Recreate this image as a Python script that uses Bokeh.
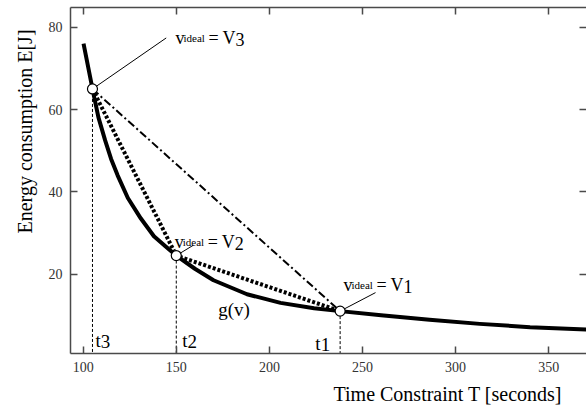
from bokeh.plotting import figure
from bokeh.models import Range1d, LinearAxis, FixedTicker, Label, ColumnDataSource, Title
from bokeh.core.properties import value
from bokeh.embed import file_html
from bokeh.resources import INLINE

# ---- data ----
curve_T = [100.2, 105, 108.2, 111.8, 115, 118.5, 124, 131, 138, 144, 150,
           160, 170, 188, 206, 224, 238, 260, 286, 313, 340, 372]
curve_E = [76.0, 65.0, 58.1, 52.5, 48.0, 44.0, 38.5, 33.5, 29.2, 26.8, 24.5,
           21.3, 18.5, 15.1, 13.0, 11.7, 11.0, 10.0, 8.9, 7.9, 7.1, 6.5]

point_T = [238, 150, 105]          # t1, t2, t3
point_E = [11.0, 24.5, 65.0]       # V1, V2, V3
point_idx = ["1", "2", "3"]

x_ticks = [100, 150, 200, 250, 300, 350]
y_ticks = [20, 40, 60, 80]

# ---- layout constants ----
X0, X1 = 93.2, 370.3
Y0, Y1 = 0.7, 84.8
SERIF = "Liberation Serif"
AX = "#4a4a4a"

p = figure(width=586, height=412, x_range=Range1d(X0, X1), y_range=Range1d(Y0, Y1),
           output_backend="svg", toolbar_location=None,
           min_border_left=70, min_border_right=0, min_border_top=7, min_border_bottom=59,
           background_fill_color="white", border_fill_color="white",
           outline_line_color=None)
p.grid.visible = False


def style_axis(ax, ticks, show_labels=True, show_line=True):
    ax.ticker = FixedTicker(ticks=ticks)
    ax.major_tick_in = 7
    ax.major_tick_out = 0
    ax.minor_tick_in = 0
    ax.minor_tick_out = 0
    ax.major_tick_line_color = AX
    ax.major_tick_line_width = 1.5
    ax.axis_line_color = AX if show_line else None
    ax.axis_line_width = 1.5
    ax.major_label_text_font = SERIF
    if show_labels:
        ax.major_label_text_font_size = "14px"
        ax.major_label_text_color = "#333333"
    else:
        ax.major_label_text_font_size = "1px"
        ax.major_label_text_color = None
        ax.major_label_standoff = 0


style_axis(p.xaxis[0], x_ticks)
p.xaxis[0].major_label_standoff = 8
style_axis(p.yaxis[0], y_ticks)
p.yaxis[0].major_label_standoff = 8

top = LinearAxis()
style_axis(top, x_ticks, show_labels=False)
p.add_layout(top, "above")
right = LinearAxis()
style_axis(right, y_ticks, show_labels=False, show_line=False)
p.add_layout(right, "right")

# vertical dashed guides
p.segment(x0=point_T, y0=point_E, x1=point_T, y1=[Y0] * len(point_T),
          line_color="black", line_width=1, line_dash="3 2")

# chord V3 -> V1 (dash-dot)
p.line([point_T[2], point_T[0]], [point_E[2], point_E[0]],
       line_color="black", line_width=2, line_dash="8 3 2 3")

# polyline V3 -> V2 -> V1 (dotted)
p.line(point_T[::-1], point_E[::-1], line_color="black", line_width=4,
       line_dash="3 2", line_cap="butt")

# g(v)
p.line(curve_T, curve_E, line_color="black", line_width=4, line_join="round")

# leader lines to annotations
lead_x1 = [257.0, 159.1, 144.6]
lead_y1 = [15.5, 27.0, 77.4]
p.segment(x0=point_T, y0=point_E, x1=lead_x1, y1=lead_y1, line_color="black", line_width=1)

# markers
p.scatter(point_T, point_E, size=10, fill_color="white", line_color="black", line_width=1.2)

# annotation texts "v_ideal = Vn"
ann_x = [239.8, 149.2, 149.6]
ann_y = [17.25, 27.9, 77.5]
src = ColumnDataSource(dict(x=ann_x, y=ann_y, idx=point_idx))
common = dict(source=src, text_font=value(SERIF), text_color="black",
              text_baseline="alphabetic", text_align="left")
p.text(x="x", y="y", text=value("v"), text_font_size="18px", x_offset=0, **common)
p.text(x="x", y="y", text=value("ideal"), text_font_size="11px", x_offset=8, **common)
p.text(x="x", y="y", text=value("="), text_font_size="18px", x_offset=33, **common)
p.text(x="x", y="y", text=value("V"), text_font_size="18px", x_offset=47, **common)
p.text(x="x", y="y", text="idx", text_font_size="18px", x_offset=60, y_offset=1.5, **common)

# t labels
t_x = [224.7, 153.2, 106.6]
t_y = [3.2, 3.9, 3.9]
tsrc = ColumnDataSource(dict(x=t_x, y=t_y, idx=point_idx))
tcommon = dict(source=tsrc, text_font=value(SERIF), text_color="black",
               text_baseline="alphabetic", text_align="left", text_font_size="19px")
p.text(x="x", y="y", text=value("t"), **tcommon)
p.text(x="x", y="y", text="idx", x_offset=5.3, y_offset=1.5, **tcommon)

# g(v) label
p.add_layout(Label(x=172.5, y=11.4, text="g(v)", text_font=SERIF, text_font_size="19px",
                   text_baseline="alphabetic", text_align="left", text_color="black"))

# axis titles
p.add_layout(Title(text="Time Constraint T [seconds]", align="left", offset=263,
                   text_font=SERIF, text_font_size="20px", text_font_style="normal",
                   text_color="black", standoff=12), "below")
p.add_layout(Title(text="Energy consumption E[J]", align="left", offset=120,
                   text_font=SERIF, text_font_size="20px", text_font_style="normal",
                   text_color="black", standoff=19), "left")

open("out.html", "w").write(file_html(p, INLINE))
